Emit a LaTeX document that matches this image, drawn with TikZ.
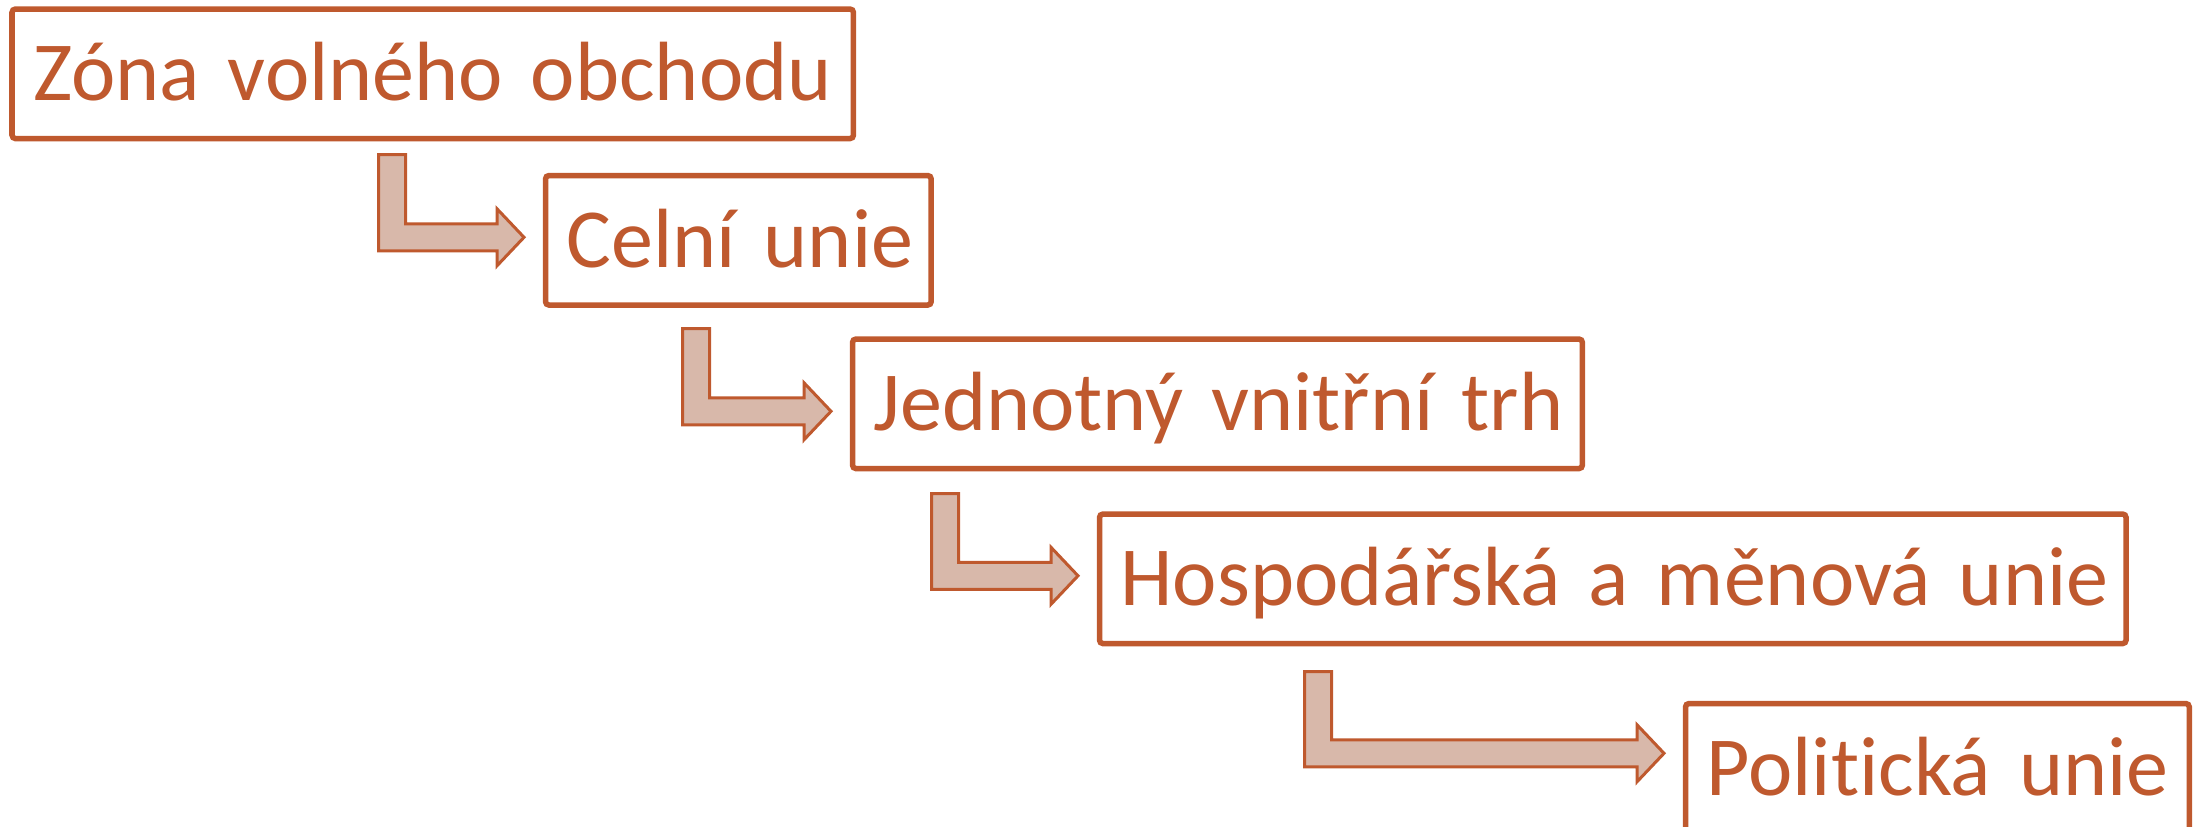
\documentclass[tikz,border=0pt]{standalone}
\usepackage{fontspec}
\setmainfont{Carlito}[Ligatures=NoCommon]
\usetikzlibrary{calc}

\definecolor{rust}{RGB}{191,89,46}
\definecolor{rustfill}{RGB}{216,184,170}

% bent block arrow: #1 top left corner of the stem, #2 target box, #3 shift of the tip
\newcommand{\stepto}[3]{%
  \draw[bentarrow] (#1) -- ++(27,0) |- ($(#2.west)+(-48.5,#3-13.5)$) -- ++(0,-15)
    -- ($(#2.west)+(-21.5,#3)$) -- ($(#2.west)+(-48.5,#3+28.5)$) -- ++(0,-15) -| (#1) -- cycle;}

\begin{document}
\begin{tikzpicture}[x=0.01cm,y=-0.01cm,
  stage/.style={draw=rust,line width=0.055cm,rounded corners=1pt,text=rust,
    anchor=north west,outer sep=0pt,inner xsep=0.21cm,inner ysep=0pt,
    text height=0.915cm,text depth=0.38cm,text width=#1,align=left,
    font=\fontsize{23.9}{28}\selectfont},
  bentarrow/.style={draw=rust,fill=rustfill,line width=0.03cm}]

\useasboundingbox (0,0) rectangle (2202,826);

\node[stage=7.99cm] (zona) at (12,9) {\mbox{Zóna volného obchodu}};
\node[stage=3.435cm] (celni) at (545.5,175.5) {\mbox{Celní unie}};
\node[stage=6.875cm] (trh) at (852.5,339) {\mbox{Jednotný vnitřní trh}};
\node[stage=9.84cm] (hmu) at (1099.5,514) {\mbox{Hospodářská a měnová unie}};
\node[stage=4.615cm] (politicka) at (1685.5,703.5) {\mbox{Politická unie}};

\coordinate (s1) at (378.5,154.5);
\coordinate (s2) at (682.5,328.5);
\coordinate (s3) at (931.5,493.5);
\coordinate (s4) at (1304.5,671.5);

\stepto{s1}{celni}{-3}
\stepto{s2}{trh}{7.5}
\stepto{s3}{hmu}{-3}
\stepto{s4}{politicka}{-15}

\end{tikzpicture}
\end{document}
